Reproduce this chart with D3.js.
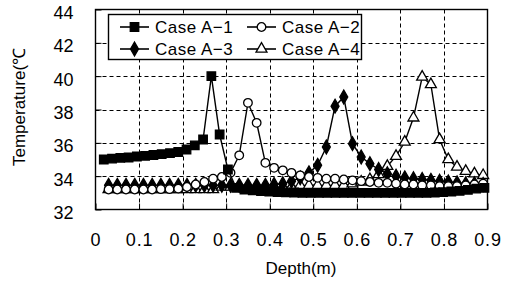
<!DOCTYPE html>
<html><head><meta charset="utf-8">
<script src="https://cdn.jsdelivr.net/npm/d3@7"></script>
<style>
html,body{margin:0;padding:0;background:#fff;}
svg{display:block;font-family:Arial,"Liberation Sans",Helvetica,sans-serif;}
</style></head>
<body>
<svg id="chart" width="511" height="289"></svg>
<script>
// ---- data ----
const depthA1 = [0.019,0.038,0.057,0.076,0.095,0.114,0.133,0.152,0.171,0.19,0.209,0.228,0.247,0.266,0.285,0.304,0.323,0.342,0.361,0.38,0.399,0.418,0.437,0.456,0.475,0.494,0.513,0.532,0.551,0.57,0.589,0.608,0.627,0.646,0.665,0.684,0.703,0.722,0.741,0.76,0.779,0.798,0.817,0.836,0.855,0.874,0.893];
const caseA1 = [35.0,35.05,35.1,35.12,35.18,35.22,35.27,35.32,35.38,35.45,35.6,35.85,36.2,40.0,36.5,34.4,33.3,33.2,33.15,33.1,33.08,33.05,33.03,33.02,33.0,33.0,33.0,33.0,33.0,33.0,33.0,33.0,33.0,33.0,33.0,33.0,33.0,33.0,33.0,33.0,33.02,33.04,33.08,33.12,33.18,33.25,33.3];
const depth = [0.03,0.05,0.07,0.09,0.11,0.13,0.15,0.17,0.19,0.21,0.23,0.25,0.27,0.29,0.31,0.33,0.35,0.37,0.39,0.41,0.43,0.45,0.47,0.49,0.51,0.53,0.55,0.57,0.59,0.61,0.63,0.65,0.67,0.69,0.71,0.73,0.75,0.77,0.79,0.81,0.83,0.85,0.87,0.89];
const caseA2 = [33.2,33.2,33.2,33.2,33.2,33.2,33.22,33.22,33.25,33.35,33.5,33.65,33.85,33.95,34.2,35.25,38.4,37.2,34.8,34.5,34.35,34.2,34.05,33.95,33.9,33.85,33.85,33.8,33.75,33.7,33.65,33.6,33.6,33.55,33.5,33.5,33.45,33.45,33.4,33.4,33.4,33.45,33.5,33.55];
const caseA3 = [33.45,33.45,33.45,33.45,33.45,33.45,33.45,33.45,33.45,33.45,33.45,33.45,33.45,33.45,33.45,33.45,33.45,33.45,33.45,33.5,33.55,33.7,33.9,34.2,34.65,35.75,38.2,38.75,35.95,35.15,34.75,34.4,34.15,34.0,33.9,33.85,33.8,33.75,33.7,33.65,33.6,33.55,33.55,33.5];
const caseA4 = [33.2,33.2,33.2,33.2,33.2,33.2,33.2,33.2,33.2,33.2,33.2,33.2,33.2,33.35,33.35,33.35,33.35,33.35,33.35,33.35,33.35,33.35,33.45,33.45,33.45,33.45,33.45,33.45,33.55,33.65,33.8,34.1,34.6,35.2,36.05,37.5,39.95,39.5,36.2,35.0,34.55,34.3,34.15,34.05];
const seriesNames = ["Case A\u22121","Case A\u22122","Case A\u22123","Case A\u22124"];
const xTicks = [0,0.1,0.2,0.3,0.4,0.5,0.6,0.7,0.8,0.9];
const yTicks = [32,34,36,38,40,42,44];

// ---- layout ----
const svg = d3.select("#chart");
const L = 95.5, R = 487.5, T = 9.5, B = 209.5;
const x = d3.scaleLinear().domain([0,0.9]).range([L,R]);
const y = d3.scaleLinear().domain([32,44]).range([B,T]);
const FONT = "Arial,'Liberation Sans',sans-serif";

// grid
const g = svg.append("g");
g.selectAll(".vg").data(xTicks.slice(1,-1)).enter().append("line")
  .attr("x1",d=>Math.round(x(d))+0.5).attr("x2",d=>Math.round(x(d))+0.5)
  .attr("y1",T).attr("y2",B).attr("stroke","#000").attr("stroke-width",1).attr("stroke-dasharray","4,3");
g.selectAll(".hg").data(yTicks.slice(1,-1)).enter().append("line")
  .attr("y1",d=>Math.round(y(d))+0.5).attr("y2",d=>Math.round(y(d))+0.5)
  .attr("x1",L).attr("x2",R).attr("stroke","#000").attr("stroke-width",1).attr("stroke-dasharray","4,3");

// axes
const xAxis = d3.axisBottom(x).tickValues(xTicks).tickSizeInner(-6).tickSizeOuter(0).tickPadding(24).tickFormat(d3.format("~g"));
const gx = svg.append("g").attr("transform",`translate(0,${B})`).call(xAxis);
gx.select(".domain").remove();
gx.selectAll("text").attr("font-size",18).attr("fill","#000").attr("font-family",FONT).attr("letter-spacing","0.8px");
gx.selectAll("line").attr("stroke","#000");
const yAxis = d3.axisLeft(y).tickValues(yTicks).tickSizeInner(-6).tickSizeOuter(0).tickPadding(22).tickFormat(d3.format("d"));
const gy = svg.append("g").attr("transform",`translate(${L},0)`).call(yAxis);
gy.select(".domain").remove();
gy.selectAll("text").attr("font-size",18).attr("fill","#000").attr("dy","0.5em").attr("font-family",FONT);
gy.selectAll("line").attr("stroke","#000");

svg.append("rect").attr("x",L).attr("y",T).attr("width",R-L).attr("height",B-T)
  .attr("fill","none").attr("stroke","#000").attr("stroke-width",1.4);

// titles
svg.append("text").attr("x",301).attr("y",274).attr("text-anchor","middle")
  .attr("font-size",17).text("Depth(m)");
svg.append("text").attr("transform","translate(25,107) rotate(-90)").attr("text-anchor","middle")
  .attr("font-size",17).text("Temperature(\u2103");

// series
const sym = {
  square: d3.symbol().type(d3.symbolSquare).size(72),
  circle: d3.symbol().type(d3.symbolCircle).size(58),
  diamond: d3.symbol().type(d3.symbolDiamond).size(55),
  triangle: d3.symbol().type(d3.symbolTriangle).size(52)
};
const series = [
  {name:seriesNames[3], xs:depth, ys:caseA4, sym:sym.triangle, fill:"#fff"},
  {name:seriesNames[2], xs:depth, ys:caseA3, sym:sym.diamond, fill:"#000"},
  {name:seriesNames[1], xs:depth, ys:caseA2, sym:sym.circle, fill:"#fff"},
  {name:seriesNames[0], xs:depthA1, ys:caseA1, sym:sym.square, fill:"#000"}
];
const line = d3.line().x(d=>x(d[0])).y(d=>y(d[1]));
series.forEach(s=>{
  const pts = s.xs.map((d,i)=>[d,s.ys[i]]);
  const gs = svg.append("g");
  gs.append("path").attr("d",line(pts)).attr("fill","none").attr("stroke","#000").attr("stroke-width",1.4);
  gs.selectAll("path.m").data(pts).enter().append("path").attr("class","m")
    .attr("transform",d=>`translate(${x(d[0])},${y(d[1])})`)
    .attr("d",s.sym()).attr("fill",s.fill).attr("stroke","#000").attr("stroke-width",1.3);
});

// legend
const lg = svg.append("g");
lg.append("rect").attr("x",108.5).attr("y",14.5).attr("width",253).attr("height",45)
  .attr("fill","#fff").attr("stroke","#000").attr("stroke-width",1.4);
const legendItems = [
  {name:seriesNames[0], sym:sym.square, fill:"#000", cx:120, cy:27},
  {name:seriesNames[1], sym:sym.circle, fill:"#fff", cx:247, cy:27},
  {name:seriesNames[2], sym:sym.diamond, fill:"#000", cx:120, cy:49},
  {name:seriesNames[3], sym:sym.triangle, fill:"#fff", cx:247, cy:49}
];
legendItems.forEach(it=>{
  lg.append("line").attr("x1",it.cx).attr("x2",it.cx+29).attr("y1",it.cy).attr("y2",it.cy)
    .attr("stroke","#000").attr("stroke-width",1.6);
  lg.append("path").attr("transform",`translate(${it.cx+14.5},${it.cy})`).attr("d",it.sym())
    .attr("fill",it.fill).attr("stroke","#000").attr("stroke-width",1.3);
  lg.append("text").attr("x",it.cx+35).attr("y",it.cy).attr("dy","0.36em")
    .attr("font-size",17).attr("letter-spacing","0.5px").text(it.name);
});
</script>
</body></html>
